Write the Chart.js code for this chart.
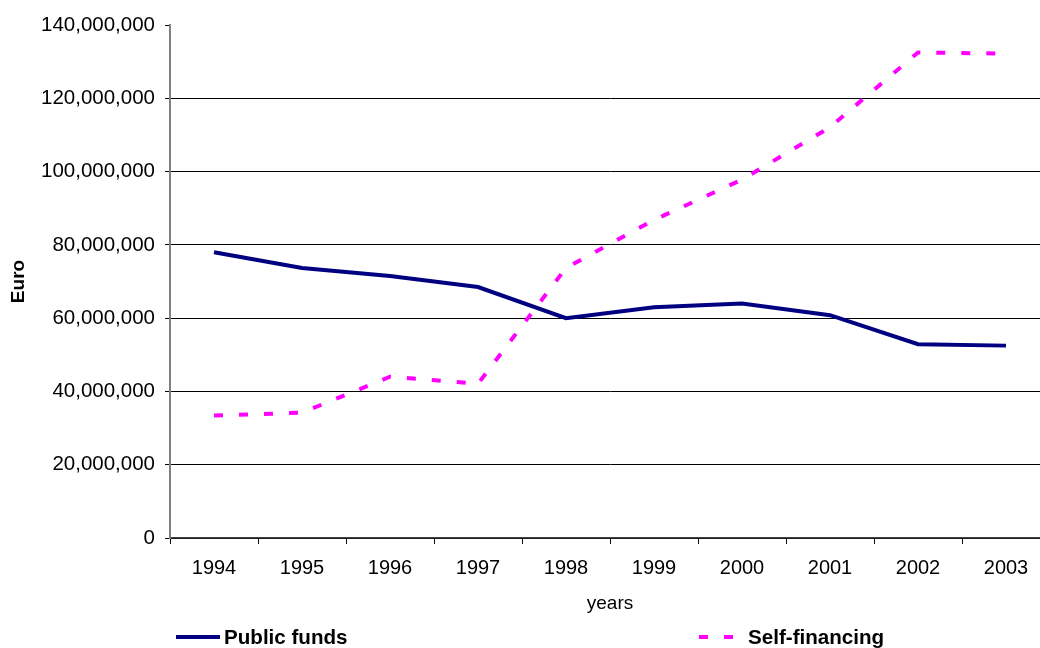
<!DOCTYPE html>
<html>
<head>
<meta charset="utf-8">
<script src="https://cdn.jsdelivr.net/npm/chart.js@4.4.1/dist/chart.umd.min.js"></script>
<style>
  html, body { margin: 0; padding: 0; background: #fff; overflow: hidden; }
  #wrap { width: 1050px; height: 648px; }
</style>
</head>
<body>
<div id="wrap"><canvas id="c" width="1050" height="648"></canvas></div>
<script>
const years = ['1994','1995','1996','1997','1998','1999','2000','2001','2002','2003'];
const publicFunds = [78000000, 73700000, 71500000, 68500000, 60000000, 63000000, 64000000, 60800000, 52900000, 52500000];
const selfFinancing = [33400000, 34200000, 44000000, 42100000, 73700000, 86800000, 97800000, 112100000, 132500000, 132200000];
const yTickValues = [0, 20000000, 40000000, 60000000, 80000000, 100000000, 120000000, 140000000];
const seriesLabels = ['Public funds', 'Self-financing'];
const axisTitles = { x: 'years', y: 'Euro' };

const FONT = "'Liberation Sans', Arial, sans-serif";

const legendPlugin = {
  id: 'customLegend',
  afterDraw(chart) {
    const ctx = chart.ctx;
    const items = [
      { lineX0: 176, lineX1: 220, textX: 224 },
      { lineX0: 699, lineX1: 735, textX: 748 }
    ];
    const y = 637;
    chart.data.datasets.forEach((ds, i) => {
      const it = items[i];
      ctx.save();
      ctx.strokeStyle = ds.borderColor;
      ctx.lineWidth = 4;
      ctx.lineCap = 'butt';
      ctx.setLineDash(ds.borderDash || []);
      ctx.beginPath();
      ctx.moveTo(it.lineX0, y);
      ctx.lineTo(it.lineX1, y);
      ctx.stroke();
      ctx.setLineDash([]);
      ctx.fillStyle = '#000';
      ctx.font = "bold 20.6px " + FONT;
      ctx.textBaseline = 'middle';
      ctx.textAlign = 'left';
      ctx.fillText(ds.label, it.textX, y + 1);
      ctx.restore();
    });
  }
};

new Chart(document.getElementById('c'), {
  type: 'line',
  data: {
    labels: years,
    datasets: [
      {
        label: seriesLabels[0],
        data: publicFunds,
        borderColor: '#000080',
        backgroundColor: '#000080',
        borderWidth: 4,
        pointRadius: 0,
        tension: 0,
        fill: false
      },
      {
        label: seriesLabels[1],
        data: selfFinancing,
        borderColor: '#FF00FF',
        backgroundColor: '#FF00FF',
        borderWidth: 4,
        borderDash: [9, 16],
        borderCapStyle: 'butt',
        pointRadius: 0,
        tension: 0,
        fill: false
      }
    ]
  },
  options: {
    responsive: false,
    animation: false,
    events: [],
    layout: { padding: { left: 0, right: 0, top: 25, bottom: 30 } },
    plugins: {
      legend: { display: false },
      tooltip: { enabled: false },
      title: { display: false }
    },
    scales: {
      x: {
        type: 'category',
        offset: true,
        grid: {
          offset: true,
          drawOnChartArea: false,
          drawTicks: true,
          tickLength: 6,
          color: '#000',
          lineWidth: 1
        },
        border: { display: true, color: '#404040', width: 1.5 },
        ticks: {
          color: '#000',
          font: { family: FONT, size: 20 },
          padding: 12,
          maxRotation: 0,
          autoSkip: false
        },
        title: {
          display: true,
          text: axisTitles.x,
          color: '#000',
          font: { family: FONT, size: 19 },
          padding: { top: 0, bottom: 3 }
        },
        afterFit(scale) { scale.height = 80; }
      },
      y: {
        min: 0,
        max: 140000000,
        afterBuildTicks(scale) {
          scale.ticks = yTickValues.map(v => ({ value: v }));
        },
        grid: {
          drawTicks: true,
          tickLength: 5,
          color: (c) => (c.tick && c.tick.value === 140000000) ? 'rgba(0,0,0,0)' : '#000',
          tickColor: '#000',
          lineWidth: 1
        },
        border: { display: true, color: '#808080', width: 2 },
        ticks: {
          color: '#000',
          font: { family: FONT, size: 20.5 },
          padding: 10,
          callback: (v) => Number(v).toLocaleString('en-US')
        },
        title: {
          display: true,
          text: axisTitles.y,
          color: '#000',
          font: { family: FONT, size: 19, weight: 'bold' },
          padding: { top: 7, bottom: 0 }
        },
        afterFit(scale) { scale.width = 170; }
      }
    }
  },
  plugins: [legendPlugin]
});
</script>
</body>
</html>
